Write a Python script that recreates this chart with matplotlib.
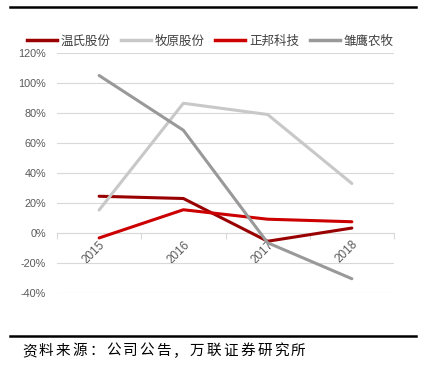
import matplotlib
matplotlib.use("Agg")
import matplotlib.pyplot as plt
from matplotlib.lines import Line2D

plt.rcParams['font.family'] = ['Noto Sans CJK SC', 'DejaVu Sans']

years = ['2015', '2016', '2017', '2018']
series_names = ['温氏股份', '牧原股份', '正邦科技', '雏鹰农牧']
wens = [24.5, 23.0, -5.5, 3.3]
muyuan = [15.3, 86.5, 79.0, 33.0]
zhengbang = [-3.3, 15.5, 9.2, 7.5]
chuying = [105.0, 68.5, -6.5, -30.5]
colors = ['#990000', '#C8C8C8', '#CC0000', '#999999']
yticks = [-40, -20, 0, 20, 40, 60, 80, 100, 120]
source = '资料来源：公司公告，万联证券研究所'

fig = plt.figure(figsize=(4.33, 3.8), dpi=100)
ax = fig.add_axes([57/433, 1-293/380, (394-57)/433, (293-53)/380])

x = list(range(len(years)))
for vals, c in zip([wens, muyuan, zhengbang, chuying], colors):
    ax.plot(x, vals, color=c, lw=2.2, solid_capstyle='round', zorder=3)

tick_font = ['Liberation Sans', 'DejaVu Sans']
ax.set_ylim(-40, 120)
ax.set_xlim(-0.5, 3.5)
ax.set_yticks(yticks)
ax.set_yticklabels([f'{v}%' for v in yticks], fontsize=7.8, color='#595959',
                   family=tick_font)
ax.yaxis.grid(True, color='#D9D9D9', lw=0.8)
ax.set_axisbelow(True)
ax.tick_params(axis='y', length=0, pad=8)
for s in ['top', 'right', 'left']:
    ax.spines[s].set_visible(False)
ax.spines['bottom'].set_position(('data', 0))
ax.spines['bottom'].set_color('#D9D9D9')
ax.set_xticks(x)
ax.set_xticklabels(years, rotation=45, ha='right', va='top', rotation_mode='anchor',
                   fontsize=8.5, color='#595959', family=tick_font)
ax.tick_params(axis='x', length=0, pad=4)
ax.set_xticks([-0.5, 0.5, 1.5, 2.5, 3.5], minor=True)
ax.tick_params(axis='x', which='minor', length=4, color='#D9D9D9', width=0.8)

handles = [Line2D([0], [0], color=c, lw=2.5) for c in colors]
fig.legend(handles, series_names, loc='center', bbox_to_anchor=(0.485, 1-41/380),
           ncol=4, frameon=False, fontsize=9, handlelength=2.4, handletextpad=0.3,
           columnspacing=0.85, labelcolor='#404040')

fig.add_artist(Line2D([10/433, 416/433], [1-7/380, 1-7/380], color='black', lw=1.8))
fig.add_artist(Line2D([10/433, 416/433], [1-336/380, 1-336/380], color='black', lw=1.8))
step = 16.8
for i, ch in enumerate(source):
    fig.text((22 + i*step)/433, 1-351/380, ch, fontsize=10.5,
             ha='left', va='center', color='black')

fig.savefig('out.png', dpi=100)
